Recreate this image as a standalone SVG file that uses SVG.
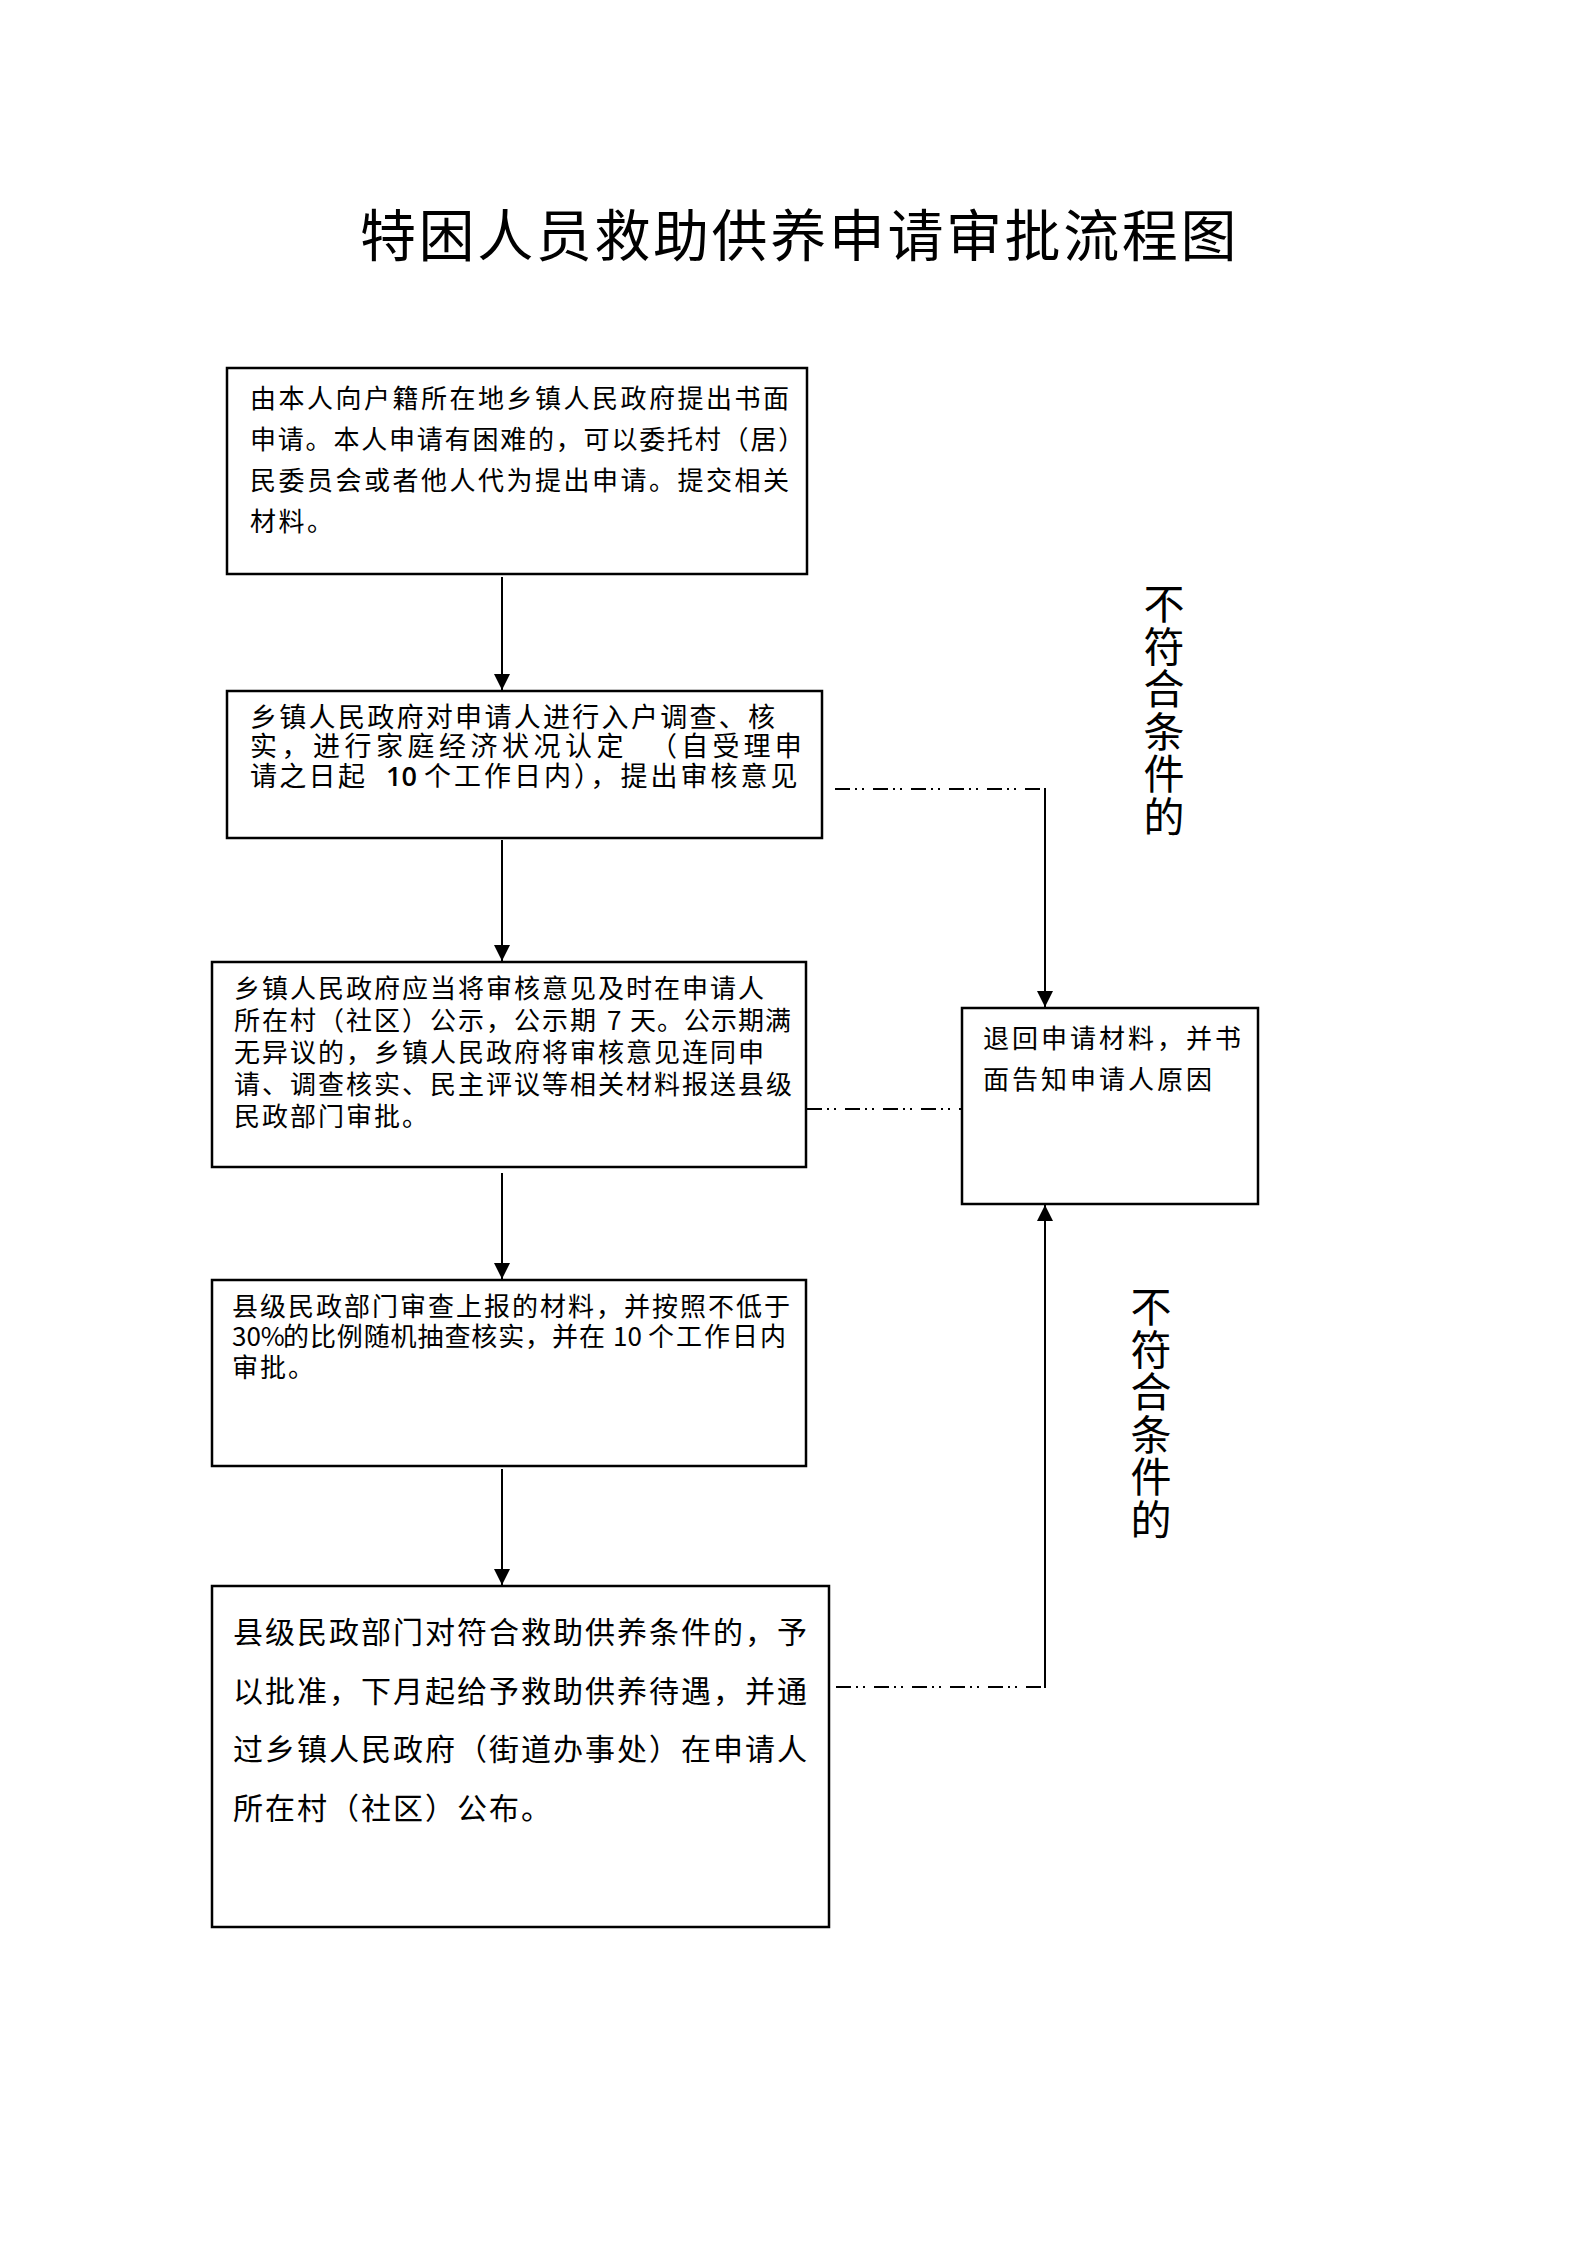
<svg xmlns="http://www.w3.org/2000/svg" width="1587" height="2245" viewBox="0 0 1587 2245">
<style>
text { font-family: "Noto Sans CJK SC", "Noto Sans", sans-serif; fill: #000; }
.title { font-size: 56px; letter-spacing: 2.6px; }
.t26 { font-size: 26px; letter-spacing: 2.5px; }
.t26b { font-size: 26px; letter-spacing: 2px; }
.t27 { font-size: 27px; letter-spacing: 2.3px; }
.t26c { font-size: 26px; letter-spacing: 3px; }
.t30 { font-size: 30px; letter-spacing: 2px; }
.num { font-family: "Open Sans", "Liberation Sans", sans-serif; letter-spacing: 0; font-weight: 600; }
.vlab { font-size: 41px; letter-spacing: 1.5px; writing-mode: vertical-rl; }
.box { fill: #fff; stroke: #000; stroke-width: 2.5; }
.flow { fill: none; stroke: #000; stroke-width: 2; }
.dd { fill: none; stroke: #000; stroke-width: 2; stroke-dasharray: 15 5 2 5 2 9; }
</style>
<defs>
<marker id="arr" markerUnits="userSpaceOnUse" markerWidth="16" markerHeight="16" viewBox="0 0 16 16" refX="16" refY="8" orient="auto">
<path d="M0,0 L16,8 L0,16 Z" fill="#000"/>
</marker>
</defs>
<rect width="1587" height="2245" fill="#fff"/>

<text class="title" x="360" y="256">特困人员救助供养申请审批流程图</text>

<g id="connectors">
<line class="flow" x1="502" y1="577" x2="502" y2="690" marker-end="url(#arr)"/>
<line class="flow" x1="502" y1="840" x2="502" y2="961" marker-end="url(#arr)"/>
<line class="flow" x1="502" y1="1173" x2="502" y2="1279" marker-end="url(#arr)"/>
<line class="flow" x1="502" y1="1469" x2="502" y2="1585" marker-end="url(#arr)"/>
<line class="dd" x1="835" y1="789" x2="1045" y2="789"/>
<line class="flow" x1="1045" y1="788" x2="1045" y2="1007" marker-end="url(#arr)"/>
<line class="dd" x1="807" y1="1109" x2="962" y2="1109"/>
<line class="dd" x1="836" y1="1687" x2="1045" y2="1687"/>
<line class="flow" x1="1045" y1="1688" x2="1045" y2="1205" marker-end="url(#arr)"/>
</g>

<g id="node1">
<rect class="box" x="227" y="368" width="580" height="206"/>
<text class="t26">
<tspan x="250" y="408">由本人向户籍所在地乡镇人民政府提出书面</tspan>
<tspan x="250" y="449" style="letter-spacing:1.8px">申请。本人申请有困难的，可以委托村（居）</tspan>
<tspan x="250" y="490">民委员会或者他人代为提出申请。提交相关</tspan>
<tspan x="250" y="531">材料。</tspan>
</text>
</g>

<g id="node2">
<rect class="box" x="227" y="691" width="595" height="147"/>
<text class="t27">
<tspan x="250" y="727">乡镇人民政府对申请人进行入户调查、核</tspan>
<tspan x="250" y="756" style="letter-spacing:4.5px">实，进行家庭经济状况认定</tspan>
<tspan x="650" y="756" style="letter-spacing:4.2px">（自受理申</tspan>
<tspan x="250" y="786">请之日起</tspan>
<tspan class="num" x="386" y="786">10</tspan>
<tspan x="424" y="786" style="letter-spacing:3px">个工作日内），提出审核意见</tspan>
</text>
</g>

<g id="node3">
<rect class="box" x="212" y="962" width="594" height="205"/>
<text class="t26b">
<tspan x="234" y="998">乡镇人民政府应当将审核意见及时在申请人</tspan>
<tspan x="234" y="1030">所在村（社区）公示，公示期</tspan>
<tspan x="607" y="1030">7</tspan>
<tspan x="630" y="1030" style="letter-spacing:1px">天。公示期满</tspan>
<tspan x="234" y="1062">无异议的，乡镇人民政府将审核意见连同申</tspan>
<tspan x="234" y="1094">请、调查核实、民主评议等相关材料报送县级</tspan>
<tspan x="234" y="1126">民政部门审批。</tspan>
</text>
</g>

<g id="node4">
<rect class="box" x="962" y="1008" width="296" height="196"/>
<text class="t26c">
<tspan x="983" y="1048">退回申请材料，并书</tspan>
<tspan x="983" y="1089">面告知申请人原因</tspan>
</text>
</g>

<g id="node5">
<rect class="box" x="212" y="1280" width="594" height="186"/>
<text class="t26b">
<tspan x="232" y="1316">县级民政部门审查上报的材料，并按照不低于</tspan>
<tspan x="232" y="1346" style="letter-spacing:0">30%</tspan>
<tspan x="283" y="1346" style="letter-spacing:0.9px">的比例随机抽查核实，并在</tspan>
<tspan x="613" y="1346" style="letter-spacing:0">10</tspan>
<tspan x="648" y="1346">个工作日内</tspan>
<tspan x="232" y="1377">审批。</tspan>
</text>
</g>

<g id="node6">
<rect class="box" x="212" y="1586" width="617" height="341"/>
<text class="t30">
<tspan x="233" y="1643">县级民政部门对符合救助供养条件的，予</tspan>
<tspan x="233" y="1702">以批准，下月起给予救助供养待遇，并通</tspan>
<tspan x="233" y="1760">过乡镇人民政府（街道办事处）在申请人</tspan>
<tspan x="233" y="1819">所在村（社区）公布。</tspan>
</text>
</g>

<g id="label1">
<text class="vlab" x="1164" y="583">不符合条件的</text>
</g>

<g id="label2">
<text class="vlab" x="1151" y="1286">不符合条件的</text>
</g>
</svg>
